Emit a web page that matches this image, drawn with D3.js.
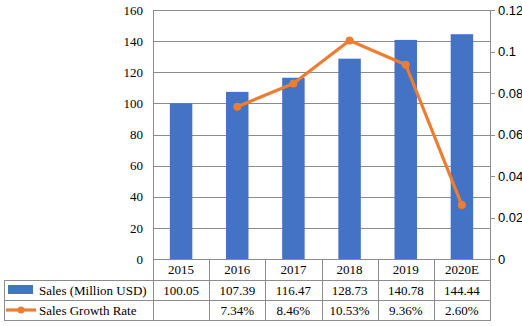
<!DOCTYPE html>
<html><head><meta charset="utf-8">
<script src="https://cdn.jsdelivr.net/npm/d3@7"></script>
<style>body{margin:0;background:#fff}svg{display:block}.serif text,text.serif{font-family:"Liberation Serif","Times New Roman",serif}.sans text{font-family:"Liberation Sans",Arial,sans-serif}</style>
</head><body>
<svg id="c" width="522" height="326"></svg>
<script>
const years = ["2015","2016","2017","2018","2019","2020E"];
const sales = [100.05,107.39,116.47,128.73,140.78,144.44];
const salesLabels = ["100.05","107.39","116.47","128.73","140.78","144.44"];
const growth = [null,0.0734,0.0846,0.1053,0.0936,0.026];
const growthLabels = ["","7.34%","8.46%","10.53%","9.36%","2.60%"];
const leftTicks = [0,20,40,60,80,100,120,140,160];
const rightTicks = [0,0.02,0.04,0.06,0.08,0.1,0.12];
const seriesNames = ["Sales (Million USD)","Sales Growth Rate"];

const blue="#4472C4", orange="#ED7D31", grid="#8c8c8c";
const svg=d3.select("#c");
const L=153,R=490,T=10,B=259;
const x=d3.scaleBand().domain(years).range([L,R]).padding(0);
const y=d3.scaleLinear().domain([0,160]).range([B,T]);
const y2=d3.scaleLinear().domain([0,0.12]).range([B,T]);

// gridlines
svg.append("g").selectAll("line").data(leftTicks.filter(d=>d>0)).join("line")
 .attr("x1",L).attr("x2",R).attr("y1",d=>y(d)+0.5).attr("y2",d=>y(d)+0.5)
 .attr("stroke",grid).attr("stroke-width",1).attr("shape-rendering","crispEdges");

// bars
const bw=x.bandwidth()*0.4;
svg.append("g").selectAll("rect").data(sales).join("rect")
 .attr("x",(d,i)=>x(years[i])+x.bandwidth()/2-bw/2).attr("width",bw)
 .attr("y",d=>y(d)).attr("height",d=>B-y(d)).attr("fill",blue);

// left axis
const la=d3.axisLeft(y).tickValues(leftTicks).tickSize(0).tickPadding(10);
const lg=svg.append("g").attr("class","serif").attr("transform",`translate(${L},0)`).call(la);
lg.attr("font-family",null);
lg.select(".domain").remove();
lg.selectAll("text").attr("font-size",13).attr("fill","#000");

// right axis
const ra=d3.axisRight(y2).tickValues(rightTicks).tickSize(5).tickPadding(3).tickFormat(d=>d===0?"0":String(+d.toFixed(2)));
const rg=svg.append("g").attr("class","sans").attr("transform",`translate(${R},0)`).call(ra);
rg.attr("font-family",null);
rg.select(".domain").remove();
rg.selectAll("line").attr("stroke",grid).attr("shape-rendering","crispEdges");
rg.selectAll("text").attr("font-size",13).attr("fill","#000");

// line
const pts=growth.map((g,i)=>({g,i})).filter(p=>p.g!==null);
const line=d3.line().x(p=>x(years[p.i])+x.bandwidth()/2).y(p=>y2(p.g));
svg.append("path").datum(pts).attr("d",line).attr("fill","none").attr("stroke",orange).attr("stroke-width",3.2).attr("stroke-linejoin","round");
svg.append("g").selectAll("circle").data(pts).join("circle")
 .attr("cx",p=>x(years[p.i])+x.bandwidth()/2).attr("cy",p=>y2(p.g)).attr("r",4).attr("fill",orange);

// table
const tg=svg.append("g").attr("stroke",grid).attr("stroke-width",1).attr("shape-rendering","crispEdges");
const rows=[B,280,300,320];
const TL=3.5;
tg.append("line").attr("x1",L+0.5).attr("x2",L+0.5).attr("y1",T).attr("y2",rows[3]);
tg.append("line").attr("x1",R+0.5).attr("x2",R+0.5).attr("y1",T).attr("y2",rows[3]);
tg.append("line").attr("x1",L).attr("x2",R).attr("y1",B+0.5).attr("y2",B+0.5);
[1,2,3].forEach(k=>tg.append("line").attr("x1",TL).attr("x2",R+0.5).attr("y1",rows[k]+0.5).attr("y2",rows[k]+0.5));
tg.append("line").attr("x1",TL+0.5).attr("x2",TL+0.5).attr("y1",rows[1]).attr("y2",rows[3]);
years.forEach((yr,i)=>{ if(i>0) tg.append("line").attr("x1",x(yr)+0.5).attr("x2",x(yr)+0.5).attr("y1",B).attr("y2",rows[3]); });

const txt=svg.append("g").attr("class","serif").attr("font-size",13).attr("fill","#000").attr("text-anchor","middle");
years.forEach((yr,i)=>{
  const cx=x(yr)+x.bandwidth()/2;
  txt.append("text").attr("x",cx).attr("y",274).text(yr);
  txt.append("text").attr("x",cx).attr("y",295).text(salesLabels[i]);
  txt.append("text").attr("x",cx).attr("y",315).text(growthLabels[i]);
});
// legend keys in table
svg.append("rect").attr("x",8).attr("y",285).attr("width",25).attr("height",9).attr("fill",blue);
svg.append("line").attr("x1",6).attr("x2",36).attr("y1",310).attr("y2",310).attr("stroke",orange).attr("stroke-width",3.2);
svg.append("circle").attr("cx",21).attr("cy",310).attr("r",3.5).attr("fill",orange);
const lt=svg.append("g").attr("class","serif").attr("font-size",13).attr("fill","#000");
lt.append("text").attr("x",39).attr("y",295).text(seriesNames[0]);
lt.append("text").attr("x",39).attr("y",315).text(seriesNames[1]);
</script>
</body></html>
